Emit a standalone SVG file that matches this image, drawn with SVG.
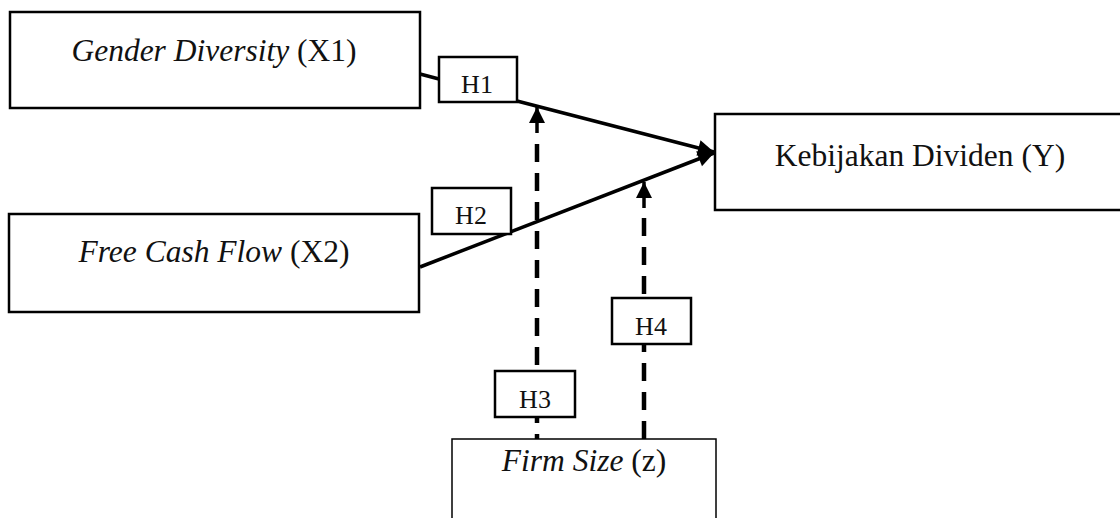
<svg xmlns="http://www.w3.org/2000/svg" width="1120" height="518" viewBox="0 0 1120 518">
<style>
.box{fill:#fff;stroke:#000;stroke-width:2.5}
.thin{fill:#fff;stroke:#000;stroke-width:1.5}
.lbl{fill:#fff;stroke:#000;stroke-width:2.5}
.t{font-family:"Liberation Serif","Times New Roman",serif;font-size:31.5px;fill:#111;text-anchor:middle}
.h{font-family:"Liberation Serif","Times New Roman",serif;font-size:26px;fill:#111;text-anchor:middle}
.i{font-style:italic}
.solid{stroke:#000;stroke-width:3.5;fill:none}
.dash{stroke:#000;stroke-width:4.5;fill:none;stroke-dasharray:18 11}
</style>
<defs>
<marker id="ah" markerUnits="userSpaceOnUse" markerWidth="20" markerHeight="20" viewBox="0 0 20 20" refX="18" refY="10" orient="auto">
<path d="M2,2 L18,10 L2,18 Z" fill="#000"/>
</marker>
</defs>
<rect width="1120" height="518" fill="#fff"/>
<g id="connectors">
<line class="solid" x1="420" y1="74" x2="439" y2="79"/>
<line class="solid" x1="517" y1="101" x2="714" y2="152" marker-end="url(#ah)"/>
<line class="solid" x1="420" y1="267" x2="714" y2="153" marker-end="url(#ah)"/>
<line class="solid" x1="537" y1="133" x2="537" y2="107" marker-end="url(#ah)"/>
<line class="dash" x1="537" y1="144" x2="537" y2="439"/>
<line class="solid" x1="644" y1="208" x2="644" y2="182" marker-end="url(#ah)"/>
<line class="dash" x1="644" y1="218" x2="644" y2="439"/>
</g>
<g id="x1">
<rect class="box" x="10" y="12" width="410" height="96"/>
<text class="t" x="214" y="61"><tspan class="i">Gender Diversity</tspan> (X1)</text>
</g>
<g id="h1">
<rect class="lbl" x="439" y="57" width="78" height="45"/>
<text class="h" x="477" y="93">H1</text>
</g>
<g id="y">
<rect class="box" x="715" y="114" width="420" height="96"/>
<text class="t" x="920" y="166">Kebijakan Dividen (Y)</text>
</g>
<g id="x2">
<rect class="box" x="9" y="214" width="410" height="98"/>
<text class="t" x="214" y="262"><tspan class="i">Free Cash Flow</tspan> (X2)</text>
</g>
<g id="h2">
<rect class="lbl" x="432" y="188" width="79" height="46"/>
<text class="h" x="471" y="224">H2</text>
</g>
<g id="h3">
<rect class="lbl" x="495" y="371" width="80" height="46"/>
<text class="h" x="535" y="408">H3</text>
</g>
<g id="h4">
<rect class="lbl" x="612" y="298" width="79" height="46"/>
<text class="h" x="651" y="335">H4</text>
</g>
<g id="z">
<rect class="thin" x="452" y="439" width="264" height="100"/>
<text class="t" x="584" y="471"><tspan class="i">Firm Size</tspan> (z)</text>
</g>
</svg>
